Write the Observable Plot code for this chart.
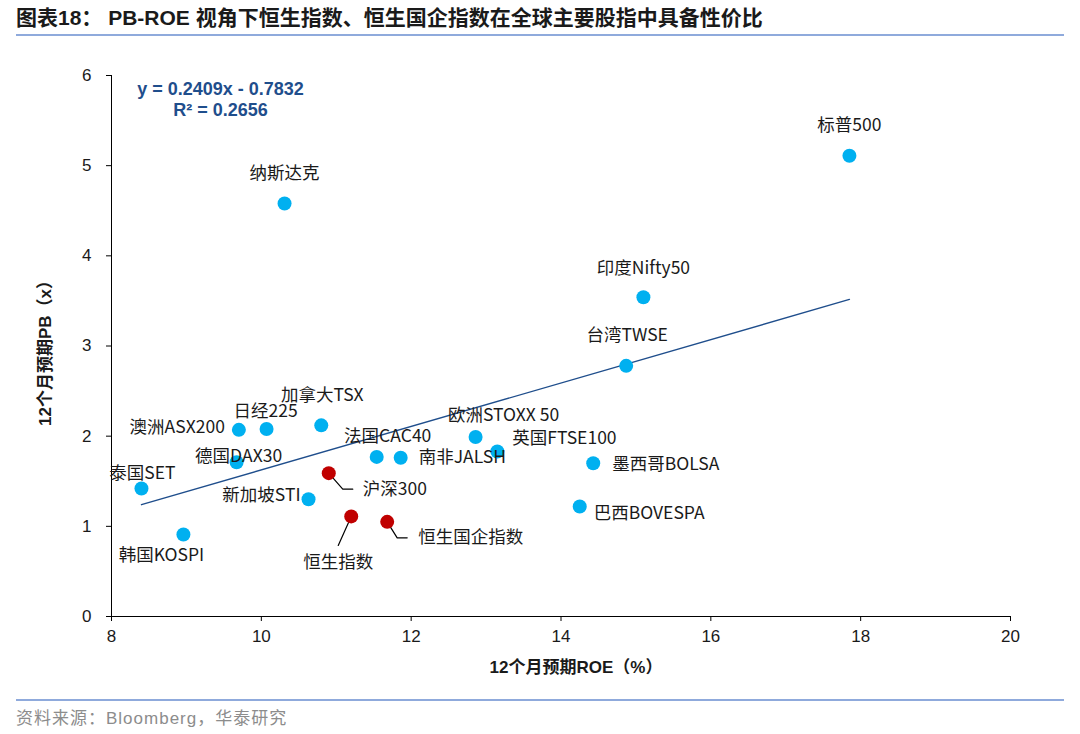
<!DOCTYPE html>
<html><head><meta charset="utf-8">
<script src="https://cdn.jsdelivr.net/npm/d3@7"></script>
<script src="https://cdn.jsdelivr.net/npm/@observablehq/plot@0.6"></script>
<style>
body{margin:0;background:#fff;width:1080px;height:734px;position:relative;overflow:hidden;font-family:"Liberation Sans","Noto Sans CJK SC",sans-serif;}
#title{position:absolute;left:16px;top:4px;font-size:21px;font-weight:bold;color:#1a1a1a;line-height:28px;white-space:nowrap;}
.rule{position:absolute;left:16px;width:1048px;height:2px;background:#8FAADC;}
#chart{position:absolute;left:0;top:40px;}
#source{position:absolute;left:16px;top:704px;font-size:17px;color:#8c8c8c;letter-spacing:1px;}
</style></head><body>
<div id="title">图表18：&nbsp;PB-ROE 视角下恒生指数、恒生国企指数在全球主要股指中具备性价比</div>
<div class="rule" style="top:34px"></div>
<div id="chart"></div>
<div class="rule" style="top:699px"></div>
<div id="source">资料来源：Bloomberg，华泰研究</div>
<script>
// ---- data ----
const names = ["标普500","纳斯达克","印度Nifty50","台湾TWSE","加拿大TSX","日经225","澳洲ASX200","德国DAX30","泰国SET","韩国KOSPI","新加坡STI","沪深300","恒生指数","恒生国企指数","法国CAC40","南非JALSH","欧洲STOXX 50","英国FTSE100","墨西哥BOLSA","巴西BOVESPA"];
const roe = [17.85,10.31,15.10,14.87,10.80,10.07,9.70,9.67,8.40,8.96,10.63,10.90,11.20,11.68,11.54,11.86,12.86,13.15,14.43,14.25];
const pb  = [5.11,4.58,3.54,2.78,2.12,2.08,2.07,1.71,1.42,0.91,1.30,1.59,1.11,1.05,1.77,1.76,1.99,1.83,1.70,1.22];
const group = ["全球","全球","全球","全球","全球","全球","全球","全球","全球","全球","全球","中国","中国","中国","全球","全球","全球","全球","全球","全球"];
const slope = 0.2409, intercept = -0.7832, r2 = 0.2656;
const xTicks = [8,10,12,14,16,18,20];
const yTicks = [0,1,2,3,4,5,6];
const xTitle = "12个月预期ROE（%）";
const yTitle = "12个月预期PB（x）";

// ---- layout (label offsets in px) ----
const labelLayout = {
  "标普500":[0,-30,"middle"], "纳斯达克":[0,-30,"middle"], "印度Nifty50":[0,-29,"middle"],
  "台湾TWSE":[1,-30,"middle"], "加拿大TSX":[1,-30,"middle"], "日经225":[-1,-18,"middle"],
  "澳洲ASX200":[-14,-2,"end"], "德国DAX30":[2,-6,"middle"], "泰国SET":[1,-15,"middle"],
  "韩国KOSPI":[-22,21,"middle"], "新加坡STI":[-8,-4,"end"], "沪深300":[34,16,"start"],
  "恒生指数":[-13,46,"middle"], "恒生国企指数":[31,16,"start"], "法国CAC40":[11,-21,"middle"],
  "南非JALSH":[18,0,"start"], "欧洲STOXX 50":[28,-22,"middle"], "英国FTSE100":[15,-13,"start"],
  "墨西哥BOLSA":[19,1,"start"], "巴西BOVESPA":[14,7,"start"]
};
const leaderLayout = {
  "沪深300":[[0,0],[14,16],[24,16]],
  "恒生指数":[[0,0],[-13,29]],
  "恒生国企指数":[[0,0],[10,16],[20,16]]
};

const W = 1080, H = 656, ML = 111, MR = 70, MT = 35, MB = 80;
const xDom = [xTicks[0], xTicks[xTicks.length-1]], yDom = [yTicks[0], yTicks[yTicks.length-1]];
const kx = (W-ML-MR)/(xDom[1]-xDom[0]), ky = (H-MT-MB)/(yDom[1]-yDom[0]);

const data = names.map((n,i)=>({name:n, roe:roe[i], pb:pb[i], group:group[i]}));
const xr = d3.extent(roe);
const trend = xr.map(x=>({x, y: slope*x + intercept}));
const leaderPts = [];
for (const d of data) {
  const l = leaderLayout[d.name];
  if (l) l.forEach(([ox,oy])=>leaderPts.push({name:d.name, x:d.roe+ox/kx, y:d.pb-oy/ky}));
}
const labelFont = "'Noto Sans CJK SC','Noto Sans',sans-serif";

const chart = Plot.plot({
  width: W, height: H, marginLeft: ML, marginRight: MR, marginTop: MT, marginBottom: MB,
  style: {fontFamily: "'Liberation Sans','Noto Sans CJK SC',sans-serif", color: "#1a1a1a", background: "#fff"},
  x: {domain: xDom, ticks: xTicks},
  y: {domain: yDom, ticks: yTicks},
  color: {domain: ["全球","中国"], range: ["#00B0F0","#C00000"]},
  marks: [
    Plot.axisX({ticks: xTicks, tickSize: 5, tickPadding: 8, fontSize: 17, label: null, stroke: "#000", tickFormat: d3.format("d")}),
    Plot.axisY({ticks: yTicks, tickSize: 5, tickPadding: 15, fontSize: 17, label: null, stroke: "#000", tickFormat: d3.format("d")}),
    Plot.ruleY([yDom[0]], {stroke: "#000", strokeWidth: 1}),
    Plot.ruleX([xDom[0]], {stroke: "#000", strokeWidth: 1}),
    Plot.line(trend, {x: "x", y: "y", stroke: "#1F4E8C", strokeWidth: 1.4}),
    Plot.line(leaderPts, {x: "x", y: "y", z: "name", stroke: "#000", strokeWidth: 1.2}),
    Plot.dot(data, {x: "roe", y: "pb", r: 7, fill: "group", stroke: null}),
    ...data.map(d => {
      const [dx, dy, anchor] = labelLayout[d.name];
      return Plot.text([d], {x: "roe", y: "pb", text: "name", dx, dy, textAnchor: anchor,
        fontSize: 17.5, fontFamily: labelFont, fill: "#1a1a1a"});
    }),
    Plot.text([`y = ${slope}x - ${Math.abs(intercept)}\nR² = ${r2}`], {frameAnchor: "top-left", dx: 109, dy: 23,
      textAnchor: "middle", lineAnchor: "middle", lineHeight: 1.17, fontSize: 18, fontWeight: "bold", fill: "#1F4E8C",
      fontFamily: "'Liberation Sans',sans-serif"}),
    Plot.text([xTitle], {frameAnchor: "bottom", dx: 15, dy: 51, lineAnchor: "middle", textAnchor: "middle", fontSize: 17, fontWeight: "bold", fill: "#1a1a1a"}),
    Plot.text([yTitle], {frameAnchor: "left", dx: -66, dy: 3, rotate: -90, textAnchor: "middle", lineAnchor: "middle", fontSize: 17, fontWeight: "bold", fill: "#1a1a1a"})
  ]
});
document.getElementById("chart").appendChild(chart);
</script>
</body></html>
